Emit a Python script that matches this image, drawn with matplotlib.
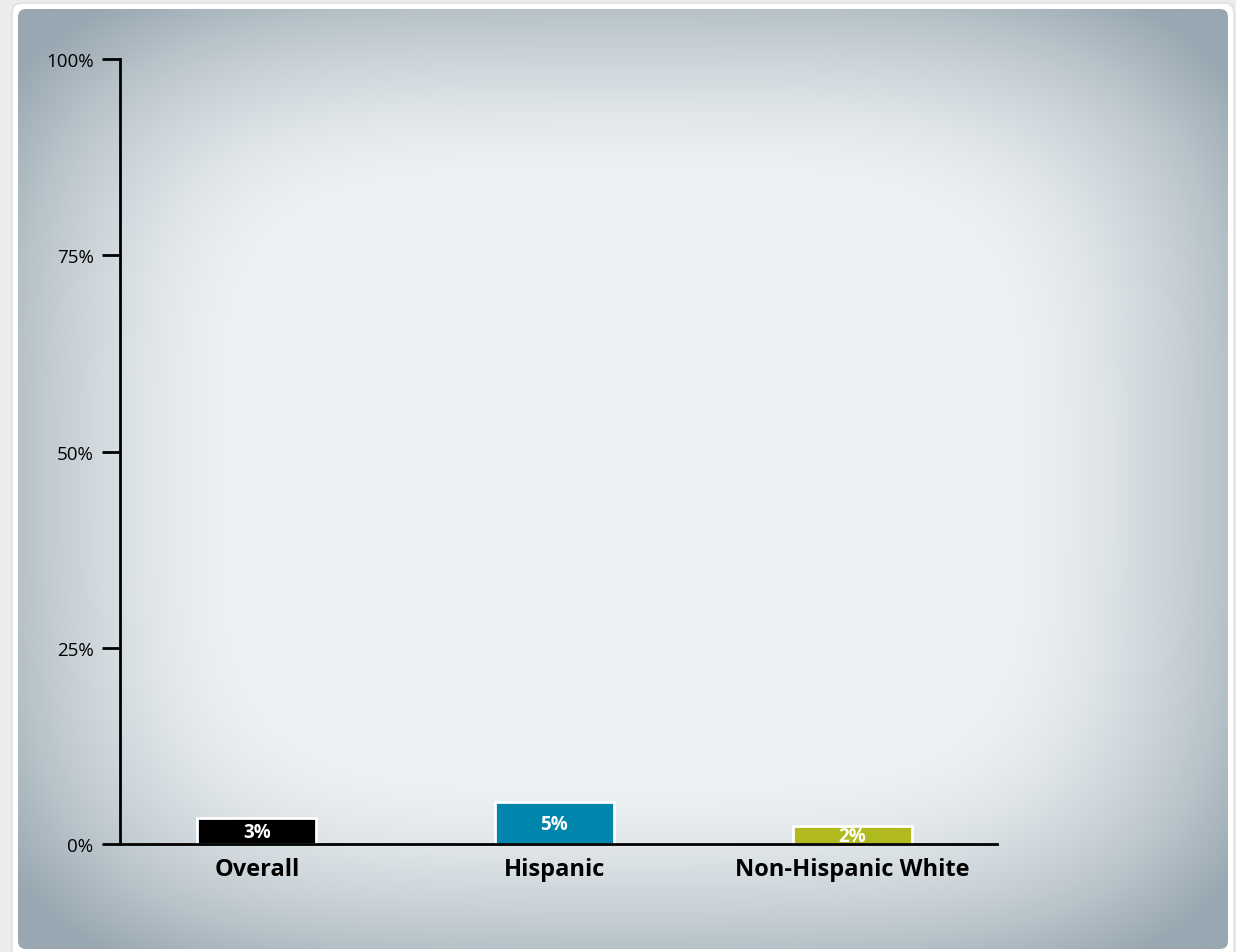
import numpy as np
import matplotlib
matplotlib.use("Agg")
import matplotlib.pyplot as plt
from matplotlib.patches import FancyBboxPatch

categories = ["Overall", "Hispanic", "Non-Hispanic White"]
values = [3.3, 5.4, 2.3]
bar_labels = ["3%", "5%", "2%"]
colors = ["#000000", "#0086ad", "#b0ba1f"]
yticks = [0, 25, 50, 75, 100]
ytick_labels = ["0%", "25%", "50%", "75%", "100%"]

W, H = 1236, 953
fig = plt.figure(figsize=(W / 100, H / 100), dpi=100)
fig.patch.set_facecolor("#ececec")

# background panel
bg = fig.add_axes([0, 0, 1, 1])
bg.set_xlim(0, W)
bg.set_ylim(H, 0)
bg.axis("off")
outer = FancyBboxPatch((12, 4), 1222, 960, boxstyle="round,pad=0,rounding_size=10",
                       fc="white", ec="#dddddd", lw=1)
bg.add_patch(outer)
x0, x1, y0, y1 = 18, 1228, 10, 950
xs = np.linspace(-1, 1, 400)
ys = np.linspace(-1, 1, 320)
X, Y = np.meshgrid(xs, ys)
p = 4
d = (np.abs(X) ** p + np.abs(Y) ** p) ** (1 / p)
t = np.clip((d - 0.62) / 0.5, 0, 1) ** 1.6
c0 = np.array([0xee, 0xf2, 0xf4]) / 255
c1 = np.array([0x98, 0xa7, 0xb1]) / 255
img = c0[None, None, :] * (1 - t[..., None]) + c1[None, None, :] * t[..., None]
im = bg.imshow(img, extent=(x0, x1, y1, y0), interpolation="bilinear", zorder=1)
clip = FancyBboxPatch((x0, y0), x1 - x0, y1 - y0, boxstyle="round,pad=0,rounding_size=8",
                      fc="none", ec="none", transform=bg.transData)
bg.add_patch(clip)
im.set_clip_path(clip)

# chart axes
ax = fig.add_axes([120 / W, 1 - 845 / H, (997 - 120) / W, (845 - 60) / H])
ax.patch.set_alpha(0)
x = np.arange(len(categories))
bars = ax.bar(x, values, width=0.40, color=colors, edgecolor="white", linewidth=2, zorder=3)
ax.set_xlim(-0.46, 2.487)
ax.set_ylim(0, 100)
for b, lab in zip(bars, bar_labels):
    ax.text(b.get_x() + b.get_width() / 2, b.get_height() / 2 - 0.1, lab, ha="center", va="center",
            color="white", fontsize=13.5, fontweight="bold", family="Open Sans", zorder=4)
ax.set_yticks(yticks)
ax.set_yticklabels(ytick_labels, fontsize=13.5, family="Open Sans")
ax.tick_params(axis="y", length=13, width=2, pad=6, color="black")
ax.set_xticks(x)
ax.set_xticklabels(categories, fontsize=17, fontweight="bold", family="Open Sans")
ax.tick_params(axis="x", length=0, pad=9)
for s in ["top", "right"]:
    ax.spines[s].set_visible(False)
ax.spines["left"].set_linewidth(2)
ax.spines["bottom"].set_linewidth(2)
ax.spines["bottom"].set_zorder(5)

fig.savefig("out.png", dpi=100, facecolor=fig.get_facecolor())
